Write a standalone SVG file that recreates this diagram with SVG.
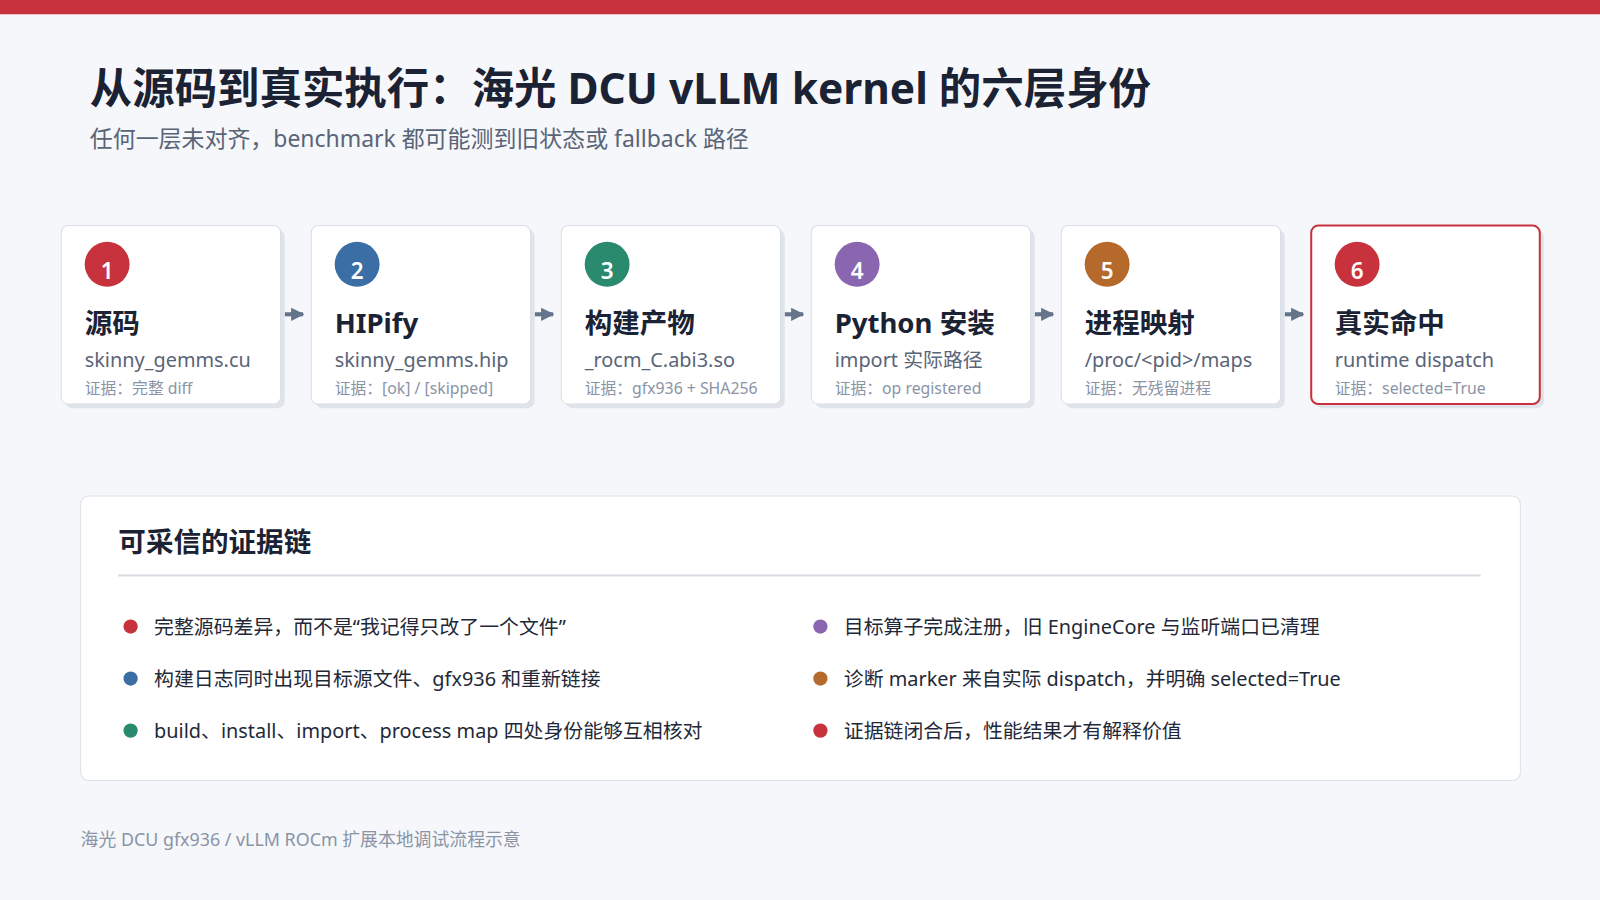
<svg xmlns="http://www.w3.org/2000/svg" width="1600" height="900" viewBox="0 0 1600 900">
<style>
text{font-family:"Noto Sans","Noto Sans CJK SC",sans-serif}
.card{fill:#fff;stroke:#d9dde6;stroke-width:1}
.shadow{fill:#dfe3ea}
.num{fill:#fff;font-size:22px;font-weight:600;text-anchor:middle}
.ct{fill:#1a2233;font-size:27px;font-weight:700}
.cs{fill:#5a6478;font-size:19.5px}
.ce{fill:#8a94a6;font-size:15.5px}
.bl{fill:#1f2937;font-size:19.5px}
.conn{stroke:#64748b;stroke-width:4}
</style>
<defs>
<marker id="a" viewBox="0 0 10 10" refX="9" refY="5" markerWidth="13" markerHeight="16" orient="auto" markerUnits="userSpaceOnUse"><path d="M0,0 L10,5 L0,10 Z" fill="#64748b"/></marker></defs>
<rect width="1600" height="900" fill="#f5f7fa"/>
<g transform="scale(1.0204)">
<rect width="1568" height="14" fill="#c8323d"/>
<text x="88" y="102" font-size="42" font-weight="700" fill="#1a2233" textLength="1040" lengthAdjust="spacingAndGlyphs">从源码到真实执行：海光 DCU vLLM kernel 的六层身份</text>
<text x="88" y="144" font-size="22.5" fill="#5a6478">任何一层未对齐，benchmark 都可能测到旧状态或 fallback 路径</text>
<g id="connectors">
<line class="conn" x1="279" y1="308" x2="297" y2="308" marker-end="url(#a)"/>
<line class="conn" x1="524" y1="308" x2="542" y2="308" marker-end="url(#a)"/>
<line class="conn" x1="769" y1="308" x2="787" y2="308" marker-end="url(#a)"/>
<line class="conn" x1="1014" y1="308" x2="1032" y2="308" marker-end="url(#a)"/>
<line class="conn" x1="1259" y1="308" x2="1277" y2="308" marker-end="url(#a)"/>
</g>
<g id="n1"><rect class="shadow" x="64" y="225" width="215" height="175" rx="7"/><rect class="card" x="60" y="221" width="215" height="175" rx="7"/><circle cx="105" cy="259" r="22" fill="#c8323d"/><text class="num" x="105" y="273">1</text><text class="ct" x="83" y="326">源码</text><text class="cs" x="83" y="360">skinny_gemms.cu</text><text class="ce" x="83" y="386">证据：完整 diff</text></g>
<g id="n2"><rect class="shadow" x="309" y="225" width="215" height="175" rx="7"/><rect class="card" x="305" y="221" width="215" height="175" rx="7"/><circle cx="350" cy="259" r="22" fill="#3a6ea5"/><text class="num" x="350" y="273">2</text><text class="ct" x="328" y="326">HIPify</text><text class="cs" x="328" y="360">skinny_gemms.hip</text><text class="ce" x="328" y="386">证据：[ok] / [skipped]</text></g>
<g id="n3"><rect class="shadow" x="554" y="225" width="215" height="175" rx="7"/><rect class="card" x="550" y="221" width="215" height="175" rx="7"/><circle cx="595" cy="259" r="22" fill="#2a8a6e"/><text class="num" x="595" y="273">3</text><text class="ct" x="573" y="326">构建产物</text><text class="cs" x="573" y="360">_rocm_C.abi3.so</text><text class="ce" x="573" y="386">证据：gfx936 + SHA256</text></g>
<g id="n4"><rect class="shadow" x="799" y="225" width="215" height="175" rx="7"/><rect class="card" x="795" y="221" width="215" height="175" rx="7"/><circle cx="840" cy="259" r="22" fill="#8a65b0"/><text class="num" x="840" y="273">4</text><text class="ct" x="818" y="326">Python 安装</text><text class="cs" x="818" y="360">import 实际路径</text><text class="ce" x="818" y="386">证据：op registered</text></g>
<g id="n5"><rect class="shadow" x="1044" y="225" width="215" height="175" rx="7"/><rect class="card" x="1040" y="221" width="215" height="175" rx="7"/><circle cx="1085" cy="259" r="22" fill="#b5692a"/><text class="num" x="1085" y="273">5</text><text class="ct" x="1063" y="326">进程映射</text><text class="cs" x="1063" y="360">/proc/&lt;pid&gt;/maps</text><text class="ce" x="1063" y="386">证据：无残留进程</text></g>
<g id="n6"><rect class="shadow" x="1289" y="225" width="224" height="175" rx="7"/><rect x="1285" y="221" width="224" height="175" rx="7" fill="#fff" stroke="#c8323d" stroke-width="2"/><circle cx="1330" cy="259" r="22" fill="#c8323d"/><text class="num" x="1330" y="273">6</text><text class="ct" x="1308" y="326">真实命中</text><text class="cs" x="1308" y="360">runtime dispatch</text><text class="ce" x="1308" y="386">证据：selected=True</text></g>
<g id="evidence">
<rect x="79" y="486" width="1411" height="279" rx="8" fill="#fff" stroke="#dde1e8"/>
<text x="116" y="541" font-size="27" font-weight="700" fill="#1a2233">可采信的证据链</text>
<line x1="116" y1="564" x2="1451" y2="564" stroke="#d5d9e0" stroke-width="2"/>
<circle cx="128" cy="614" r="7" fill="#c8323d"/><text class="bl" x="151" y="621">完整源码差异，而不是“我记得只改了一个文件”</text>
<circle cx="128" cy="665" r="7" fill="#3a6ea5"/><text class="bl" x="151" y="672">构建日志同时出现目标源文件、gfx936 和重新链接</text>
<circle cx="128" cy="716" r="7" fill="#2a8a6e"/><text class="bl" x="151" y="723">build、install、import、process map 四处身份能够互相核对</text>
<circle cx="804" cy="614" r="7" fill="#8a65b0"/><text class="bl" x="827" y="621">目标算子完成注册，旧 EngineCore 与监听端口已清理</text>
<circle cx="804" cy="665" r="7" fill="#b5692a"/><text class="bl" x="827" y="672">诊断 marker 来自实际 dispatch，并明确 selected=True</text>
<circle cx="804" cy="716" r="7" fill="#c8323d"/><text class="bl" x="827" y="723">证据链闭合后，性能结果才有解释价值</text>
</g>
<text x="79" y="829" font-size="17.5" fill="#8a94a6">海光 DCU gfx936 / vLLM ROCm 扩展本地调试流程示意</text>
</g>
</svg>
